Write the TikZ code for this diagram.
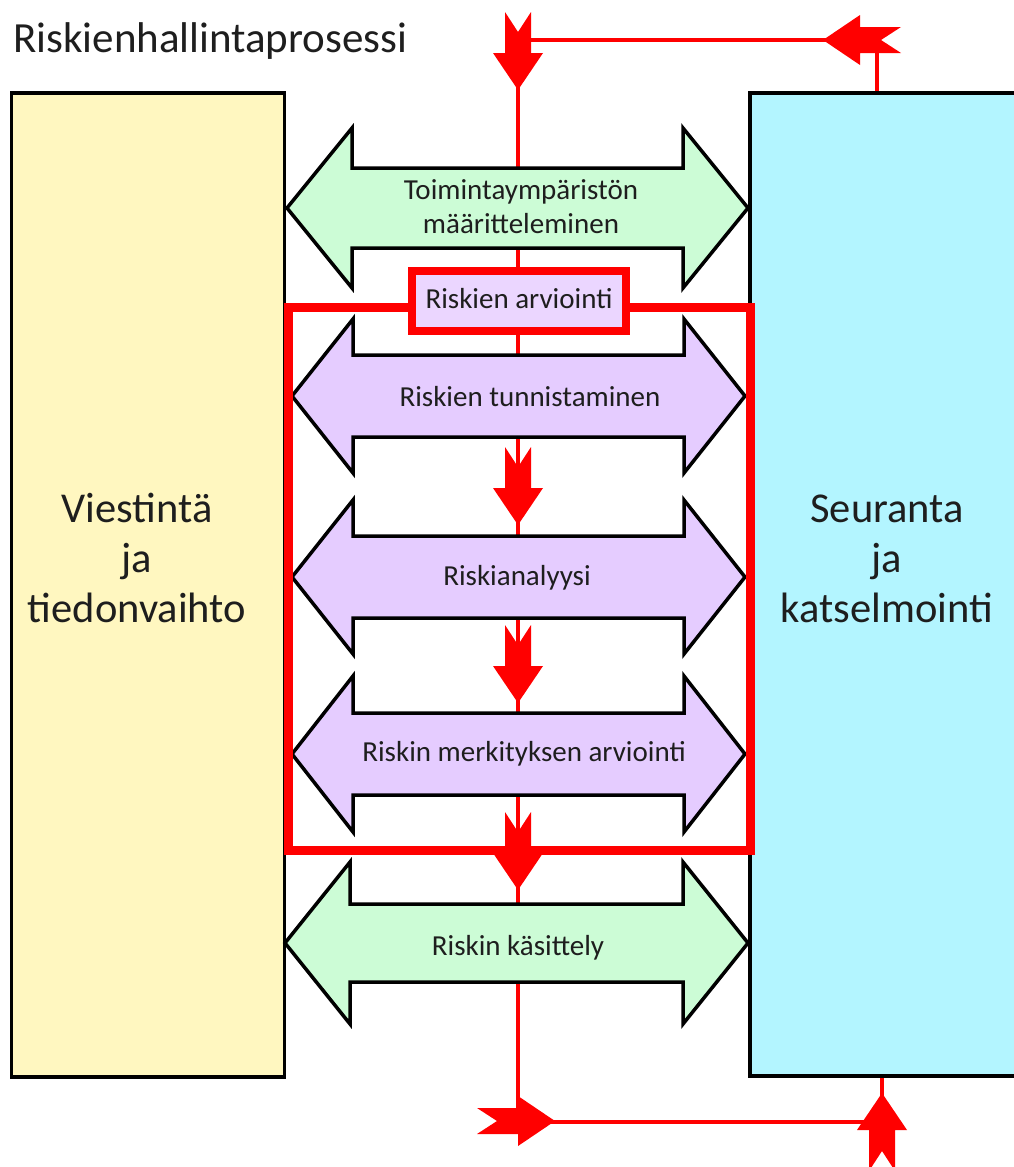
\documentclass[tikz,border=0pt]{standalone}
\usepackage{fontspec}
\setmainfont{Carlito}
\definecolor{yel}{HTML}{FFF7C0}
\definecolor{cyn}{HTML}{B3F5FF}
\definecolor{grn}{HTML}{CCFCD6}
\definecolor{prp}{HTML}{E5CCFF}
\definecolor{lav}{HTML}{EBD6FF}
\definecolor{redc}{HTML}{FF0000}
\definecolor{txt}{HTML}{1E1E1E}
\tikzset{
  bigbox/.style={draw=black, line width=3.5pt, inner sep=0pt},
  dblarrow/.style={draw=black, line width=3.5pt, line join=miter},
  redline/.style={draw=redc, line width=4.5pt},
  lbl/.style={font=\fontsize{29}{34}\selectfont, text=txt, anchor=base, inner sep=0pt},
  side/.style={font=\fontsize{42.5}{50}\selectfont, text=txt, anchor=base, inner sep=0pt}
}
\newcommand\fletch[3]{%
  \fill[redc, shift={(#1,#2)}, rotate=#3] (0,0) -- (25,-37) -- (13,-37) -- (13,-78) -- (0,-58) -- (-13,-78) -- (-13,-37) -- (-25,-37) -- cycle;}
\newcommand\dbl[7]{%
  \draw[dblarrow, fill=#1] (#3,#2) -- (#3+#5,#2-#6) -- (#3+#5,#2-#7) -- (#4-#5,#2-#7) -- (#4-#5,#2-#6) -- (#4,#2) -- (#4-#5,#2+#6) -- (#4-#5,#2+#7) -- (#3+#5,#2+#7) -- (#3+#5,#2+#6) -- cycle;}
\begin{document}
\begin{tikzpicture}[x=1pt,y=-1pt]
\useasboundingbox (0,0) rectangle (1013,1167);
\fill[white] (0,0) rectangle (1013,1167);
% side boxes
\node[bigbox, fill=yel, minimum width=273pt, minimum height=984pt] (L) at (148,585) {};
\node[bigbox, fill=cyn, minimum width=280pt, minimum height=983pt] (R) at (890,584.5) {};
% red loop
\coordinate (tr) at (877,40);
\coordinate (tl) at (518,40);
\coordinate (bl) at (518,1122);
\coordinate (br) at (882,1122);
\draw[redline] (tr |- R.north) -- (tr) -- (tl) -- (bl) -- (br) -- (br |- R.south);
% double arrows
\dbl{grn}{208}{287}{748}{65}{80}{40}
\dbl{prp}{396}{292}{745}{61}{77}{41}
\dbl{prp}{577}{292}{745}{61}{77}{41}
\dbl{prp}{754}{292}{745}{61}{78}{41}
\dbl{grn}{943}{285}{748}{65}{81}{39}
% fletched red arrows
\fletch{518}{90}{0}
\fletch{823}{40}{-90}
\fletch{518}{525}{0}
\fletch{518}{703}{0}
\fletch{518}{890}{0}
\fletch{555}{1121}{90}
\fletch{882}{1093}{180}
% red frame
\draw[redc, line width=9pt] (288,307) rectangle (750,850);
\node[draw=redc, line width=8pt, fill=lav, minimum width=214pt, minimum height=60pt, inner sep=0pt] (ra) at (519,301) {};
% labels
\node[anchor=base west, font=\fontsize{43}{50}\selectfont, text=txt, inner sep=0pt] (title) at (13,52) {Riskienhallintaprosessi};
\node[lbl] (ra-t) at (519,308) {Riskien arviointi};
\node[lbl] (g1a) at (521,199) {Toimintaympäristön};
\node[lbl] (g1b) at (521,233) {määritteleminen};
\node[lbl] (p1) at (530,406) {Riskien tunnistaminen};
\node[lbl] (p2) at (517,585) {Riskianalyysi};
\node[lbl] (p3) at (524,761) {Riskin merkityksen arviointi};
\node[lbl] (g2) at (518,955) {Riskin käsittely};
\node[side] (l1) at (137,522) {Viestintä};
\node[side] (l2) at (137,572) {ja};
\node[side] (l3) at (137,622) {tiedonvaihto};
\node[side] (r1) at (887,522) {Seuranta};
\node[side] (r2) at (887,572) {ja};
\node[side] (r3) at (887,622) {katselmointi};
\end{tikzpicture}
\end{document}
